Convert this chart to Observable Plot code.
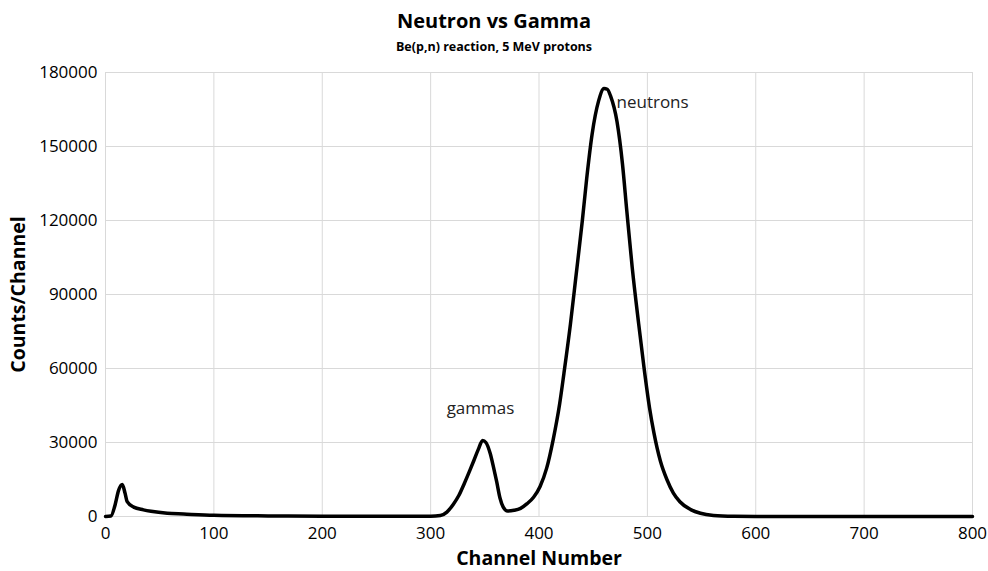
<!DOCTYPE html>
<html><head><meta charset="utf-8">
<script src="https://cdn.jsdelivr.net/npm/d3@7"></script>
<script src="https://cdn.jsdelivr.net/npm/@observablehq/plot@0.6"></script>
<style>
body{margin:0;background:#fff;font-family:"Open Sans",sans-serif;}
#wrap{width:988px;}
.title{text-align:center;font-weight:bold;font-size:20px;line-height:30px;padding-top:6px;height:30px;color:#000;}
.subtitle{text-align:center;font-weight:bold;font-size:12.5px;line-height:16px;margin-top:3px;height:16px;color:#000;}
#chart svg{display:block;}
#chart [aria-label="x-axis label"], #chart [aria-label="y-axis label"]{font-weight:bold;font-size:19.5px;}
</style></head><body>
<div id="wrap">
<div class="title">Neutron vs Gamma</div>
<div class="subtitle">Be(p,n) reaction, 5 MeV protons</div>
<div id="chart"></div>
</div>
<script>
const channels = [0, 5, 9, 12, 15.5, 18, 20, 26, 35, 42, 57, 72, 100, 150, 200, 250, 300, 309, 315, 321, 326, 331, 336, 340, 344, 348, 351, 355, 358, 361, 364, 367, 371, 377, 383, 389, 395, 401, 407, 413, 419, 423, 429, 434, 440, 444, 449, 455, 460, 463, 466, 472, 477, 481, 486, 492, 497, 502, 506, 512, 518, 524, 530, 540, 549, 561, 580, 600, 700, 800];
const counts = [0, 200, 5000, 10500, 13000, 9500, 6000, 3800, 2700, 2100, 1300, 1000, 500, 250, 150, 80, 100, 400, 1800, 5000, 8500, 13300, 18500, 22800, 27200, 30800, 30000, 25500, 20000, 14000, 7500, 3800, 2200, 2500, 3300, 5200, 7800, 12200, 19500, 31000, 45500, 58000, 78000, 97000, 120000, 137000, 155000, 168500, 173500, 173200, 170500, 160000, 143000, 124000, 101000, 78000, 60000, 44000, 34000, 22500, 15000, 9500, 6000, 2800, 1300, 450, 100, 20, 0, 0];
const xTicks = [0, 100, 200, 300, 400, 500, 600, 700, 800];
const yTicks = [0, 30000, 60000, 90000, 120000, 150000, 180000];
const labelText = ["gammas", "neutrons"];
const labelX = [346, 471.5];
const labelY = [43800, 167800];

const spectrum = channels.map((c, i) => ({channel: c, count: counts[i]}));
const labels = labelText.map((t, i) => ({text: t, x: labelX[i], y: labelY[i], anchor: i === 0 ? "middle" : "start"}));

const chart = Plot.plot({
  width: 988,
  height: 516,
  marginTop: 17,
  marginBottom: 55,
  marginLeft: 105,
  marginRight: 16,
  style: {fontFamily: "Open Sans, sans-serif", fontSize: "17px", color: "#000", background: "#fff"},
  x: {domain: [0, 800], ticks: xTicks, label: "Channel Number"},
  y: {domain: [0, 180000], ticks: yTicks, label: "Counts/Channel"},
  marks: [
    Plot.gridX(xTicks, {stroke: "#d9d9d9", strokeOpacity: 1}),
    Plot.gridY(yTicks, {stroke: "#d9d9d9", strokeOpacity: 1}),
    Plot.axisX(xTicks, {tickSize: 0, tickPadding: 10, label: "Channel Number", labelAnchor: "center", labelArrow: "none", labelOffset: 48}),
    Plot.axisY(yTicks, {tickSize: 0, tickPadding: 8, tickFormat: d => String(d), label: "Counts/Channel", labelAnchor: "center", labelArrow: "none", labelOffset: 94}),
    Plot.lineY(spectrum, {x: "channel", y: "count", stroke: "#000", strokeWidth: 3.5, curve: "monotone-x"}),
    Plot.text(labels.filter(d => d.anchor === "middle"), {x: "x", y: "y", text: "text", fontSize: 17, fill: "#222", textAnchor: "middle"}),
    Plot.text(labels.filter(d => d.anchor === "start"), {x: "x", y: "y", text: "text", fontSize: 17, fill: "#222", textAnchor: "start"})
  ]
});
document.getElementById("chart").appendChild(chart);
</script>
</body></html>
